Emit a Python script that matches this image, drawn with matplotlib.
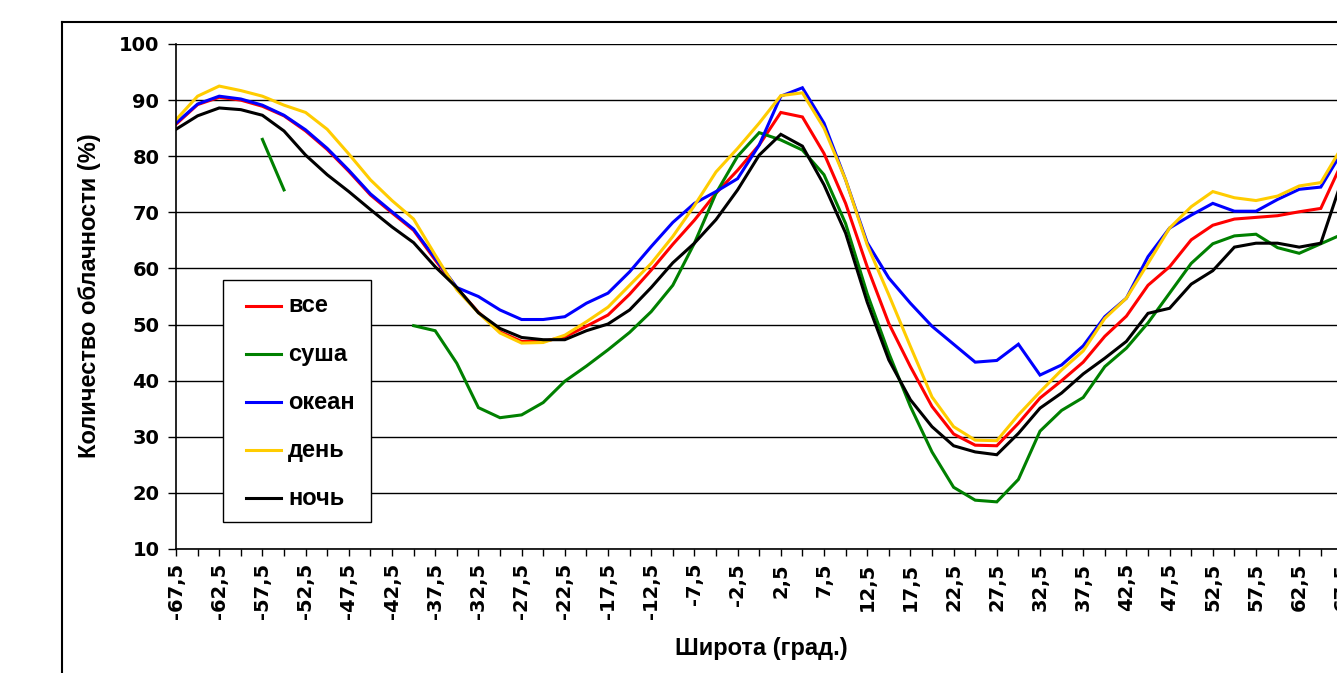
import numpy as np
import matplotlib
matplotlib.use("Agg")
import matplotlib.pyplot as plt
from matplotlib.lines import Line2D
from matplotlib.patches import Rectangle

# широта, град. (шаг 2.5)
lat = np.arange(-67.5, 67.6, 2.5)

vse = [85.7, 89.2, 90.5, 90.0, 88.9, 87.2, 84.5, 81.2, 77.3, 73.1, 69.9, 66.8, 61.5,
       56.5, 52.2, 48.7, 47.0, 47.0, 47.8, 49.7, 51.7, 55.4, 59.7, 64.3, 68.6, 73.4,
       77.5, 82.0, 87.8, 87.0, 80.5, 71.6, 60.3, 50.2, 42.5, 35.4, 30.5, 28.5, 28.4,
       32.4, 36.9, 40.0, 43.3, 47.9, 51.5, 57.0, 60.3, 65.1, 67.7, 68.8, 69.1, 69.4,
       70.1, 70.7, 79.0]
nan = np.nan
susha = [nan, nan, nan, nan, 83.0, 74.0, nan, nan, nan, nan, nan, 49.8, 48.9,
         43.1, 35.2, 33.4, 33.9, 36.1, 39.9, 42.6, 45.5, 48.6, 52.3, 57.0, 64.5, 73.4,
         80.0, 84.2, 82.9, 81.1, 76.7, 68.0, 55.5, 44.9, 35.4, 27.3, 21.0, 18.7, 18.4,
         22.4, 31.0, 34.7, 37.0, 42.5, 45.8, 50.3, 55.6, 60.9, 64.4, 65.8, 66.1, 63.7,
         62.7, 64.4, 66.1]
okean = [85.9, 89.3, 90.7, 90.2, 89.1, 87.3, 84.7, 81.4, 77.5, 73.3, 70.1, 67.0, 61.8,
         56.6, 55.0, 52.6, 50.9, 50.9, 51.4, 53.8, 55.6, 59.4, 63.9, 68.2, 71.6, 73.7,
         76.0, 82.0, 90.7, 92.2, 85.9, 75.8, 64.6, 58.3, 53.8, 49.7, 46.5, 43.3, 43.6,
         46.5, 41.0, 42.8, 46.2, 51.4, 54.7, 62.1, 67.2, 69.5, 71.6, 70.2, 70.2, 72.3,
         74.1, 74.5, 80.9]
den = [86.5, 90.7, 92.5, 91.7, 90.7, 89.1, 87.8, 84.8, 80.4, 75.8, 72.1, 68.8, 62.4,
       56.2, 52.1, 48.5, 46.7, 46.8, 48.1, 50.5, 53.1, 57.0, 60.9, 65.7, 71.2, 77.2,
       81.4, 85.9, 90.8, 91.3, 85.0, 75.8, 64.2, 55.3, 46.1, 37.1, 31.8, 29.4, 29.3,
       33.9, 38.0, 41.9, 45.3, 51.1, 54.7, 60.9, 67.2, 71.0, 73.7, 72.6, 72.1, 72.9,
       74.7, 75.3, 81.8]
noch = [84.8, 87.2, 88.6, 88.3, 87.3, 84.5, 80.2, 76.7, 73.7, 70.5, 67.4, 64.6, 60.3,
        56.6, 52.1, 49.3, 47.7, 47.3, 47.3, 48.9, 50.1, 52.6, 56.6, 61.0, 64.5, 68.7,
        74.0, 80.2, 83.9, 81.8, 74.9, 66.3, 54.0, 43.7, 36.6, 31.8, 28.4, 27.3, 26.8,
        30.6, 35.1, 37.8, 41.2, 44.0, 47.0, 52.0, 52.9, 57.2, 59.6, 63.8, 64.5, 64.5,
        63.8, 64.5, 76.0]

series = [("все", vse, "#ff0000"), ("суша", susha, "#008000"),
          ("океан", okean, "#0000ff"), ("день", den, "#ffcc00"),
          ("ночь", noch, "#000000")]

W, H = 1337, 673
fig = plt.figure(figsize=(W / 100, H / 100), dpi=100)

def px(x, y):
    return x / W, 1 - y / H

# axes: left 176px, right (off-canvas) 1342px, top 44px, bottom 549px
ax = fig.add_axes([176 / W, 1 - 549 / H, (1342.4 - 176) / W, (549 - 44) / H])

for name, vals, col in series:
    ax.plot(lat, vals, color=col, lw=2.2, solid_joinstyle="miter", label=name)

ax.set_xlim(-67.5, 67.5)
ax.set_ylim(10, 100)
ax.set_yticks(range(10, 101, 10))
ax.yaxis.grid(True, color="black", lw=1.0)
ax.set_axisbelow(True)

ax.set_xticks(lat)
ax.set_xticklabels([("%g" % v).replace(".", ",") if i % 2 == 0 else ""
                    for i, v in enumerate(lat)])

for s in ["top", "right"]:
    ax.spines[s].set_visible(False)
ax.spines["left"].set_linewidth(1.2)
ax.spines["bottom"].set_linewidth(1.2)

ax.tick_params(axis="y", length=6, width=1.0, pad=6)
ax.tick_params(axis="x", length=5, width=1.0, pad=5)
for lab in ax.get_yticklabels():
    lab.set_fontfamily("DejaVu Sans")
    lab.set_fontweight("bold")
    lab.set_fontsize(14)
for lab in ax.get_xticklabels():
    lab.set_fontfamily("DejaVu Sans")
    lab.set_fontweight("bold")
    lab.set_fontsize(14)
    lab.set_rotation(90)

fig.text(*px(761, 648), "Широта (град.)", ha="center", va="center",
         fontsize=17, fontweight="bold", family="Liberation Sans")
fig.text(*px(90, 296), "Количество облачности (%)", ha="center", va="center",
         rotation=90, fontsize=17, fontweight="bold", family="Liberation Sans")

# внешняя рамка области диаграммы
fig.add_artist(Line2D([62 / W, 62 / W], [0, 1 - 22 / H], color="black", lw=1.5,
                      transform=fig.transFigure))
fig.add_artist(Line2D([62 / W, 1], [1 - 22 / H, 1 - 22 / H], color="black", lw=1.5,
                      transform=fig.transFigure))

# легенда
x0, y0 = px(223, 522)
x1, y1 = px(371, 280)
fig.add_artist(Rectangle((x0, y0), x1 - x0, y1 - y0, transform=fig.transFigure,
                         facecolor="white", edgecolor="black", lw=1.0, zorder=5))
for k, (name, vals, col) in enumerate(series):
    yy = 306 + k * 48.1
    fig.add_artist(Line2D([246 / W, 281 / W], [1 - yy / H] * 2, color=col, lw=2.2,
                          transform=fig.transFigure, zorder=6))
    fig.text(288 / W, 1 - yy / H, name, ha="left", va="center", fontsize=17,
             fontweight="bold", family="Liberation Sans", zorder=6)

fig.savefig("out.png", dpi=100)
